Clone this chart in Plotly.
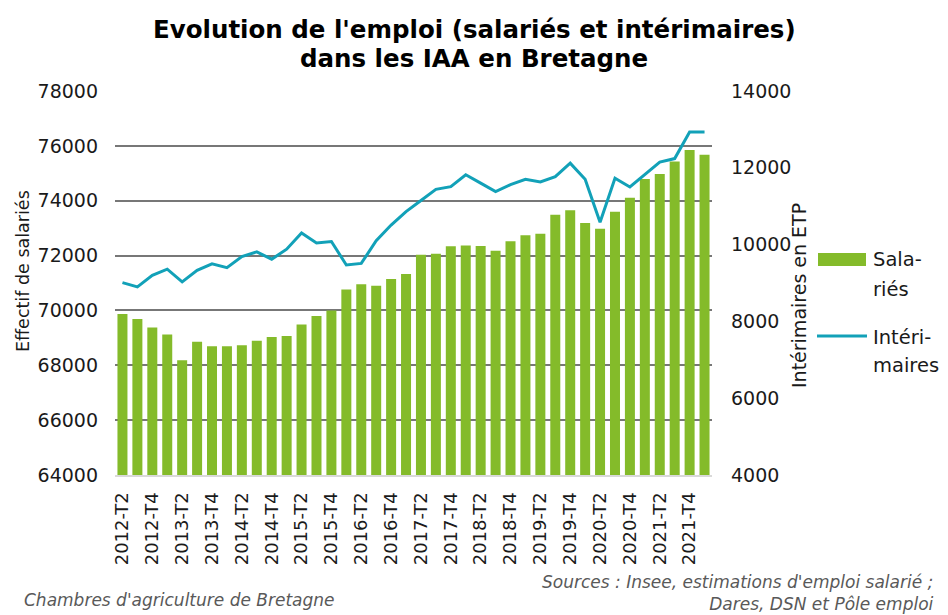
import plotly.graph_objects as go

quarters = [
    "2012-T2", "2012-T3", "2012-T4", "2013-T1", "2013-T2", "2013-T3", "2013-T4", "2014-T1",
    "2014-T2", "2014-T3", "2014-T4", "2015-T1", "2015-T2", "2015-T3", "2015-T4", "2016-T1",
    "2016-T2", "2016-T3", "2016-T4", "2017-T1", "2017-T2", "2017-T3", "2017-T4", "2018-T1",
    "2018-T2", "2018-T3", "2018-T4", "2019-T1", "2019-T2", "2019-T3", "2019-T4", "2020-T1",
    "2020-T2", "2020-T3", "2020-T4", "2021-T1", "2021-T2", "2021-T3", "2021-T4", "2022-T1",
]
salaries = [69870, 69690, 69380, 69120, 68180, 68860, 68690, 68690, 68730, 68890,
            69030, 69070, 69490, 69800, 70000, 70760, 70950, 70900, 71150, 71330,
            72030, 72070, 72340, 72370, 72350, 72180, 72520, 72740, 72800, 73490,
            73650, 73190, 72980, 73600, 74110, 74790, 74970, 75430, 75850, 75680]
interimaires = [9010, 8900, 9200, 9360, 9030, 9330, 9500, 9400, 9690, 9810,
                9620, 9880, 10300, 10040, 10080, 9470, 9510, 10100, 10510, 10860,
                11150, 11440, 11510, 11820, 11600, 11380, 11560, 11700, 11630, 11770,
                12120, 11700, 10580, 11730, 11500, 11820, 12150, 12240, 12930, 12930]
tick_labels = quarters[::2]
left_ticks = [64000, 66000, 68000, 70000, 72000, 74000, 76000, 78000]
right_ticks = [4000, 6000, 8000, 10000, 12000, 14000]

GREEN = "#84BB2A"
TEAL = "#12A1B8"
FONT = "DejaVu Sans"

fig = go.Figure()
fig.add_trace(go.Bar(x=quarters, y=salaries, name="Salariés", marker_color=GREEN,
                     marker_line_width=0, showlegend=False))
fig.add_trace(go.Scatter(x=quarters, y=interimaires, name="Intérimaires", mode="lines",
                         line=dict(color=TEAL, width=3), yaxis="y2", showlegend=False))

# page body has an 8px margin: figure is 940x607 so it fills the 948x615 window
fig.update_layout(
    width=940, height=607,
    margin=dict(l=107, r=236, t=83, b=140, autoexpand=False),
    paper_bgcolor="white", plot_bgcolor="white",
    font=dict(family=FONT, color="#1a1a1a"),
    bargap=0.33,
    xaxis=dict(type="category", range=[-0.5, 39.5], tickmode="array",
               tickvals=tick_labels, ticktext=tick_labels, tickangle=-90,
               tickfont=dict(size=18, color="#1a1a1a"), showgrid=False,
               showline=True, linecolor="#d9d9d9", linewidth=2, ticks="",
               ticklabelstandoff=8, automargin=False),
    yaxis=dict(range=[64000, 78000], tickvals=left_ticks, ticks="",
               tickfont=dict(size=19, color="#1a1a1a"), showgrid=True,
               gridcolor="#777777", gridwidth=1.5, zeroline=False, showline=False,
               ticklabelstandoff=16, tickformat="d", automargin=False),
    yaxis2=dict(range=[4000, 14000], tickvals=right_ticks, overlaying="y", side="right",
                ticks="", tickfont=dict(size=19, color="#1a1a1a"), showgrid=False,
                zeroline=False, showline=False, ticklabelstandoff=18, tickformat="d",
                automargin=False),
    showlegend=False,
)

def px_x(x):
    return (x - 115) / 597.0

def px_y(y):
    return (475 - y) / 384.0

ann = []
# Title
ann.append(dict(text="<b>Evolution de l'emploi (salariés et intérimaires)</b>", x=px_x(474), xref="paper",
                y=px_y(29), yref="paper", showarrow=False, xanchor="center", yanchor="middle",
                font=dict(size=24.5, color="black")))
ann.append(dict(text="<b>dans les IAA en Bretagne</b>", x=px_x(474), xref="paper",
                y=px_y(58), yref="paper", showarrow=False, xanchor="center", yanchor="middle",
                font=dict(size=24.5, color="black")))
# Axis titles
ann.append(dict(text="Effectif de salariés", x=px_x(23), y=px_y(271), xref="paper", yref="paper",
                textangle=-90, showarrow=False, xanchor="center", yanchor="middle",
                font=dict(size=17.5, color="#1a1a1a")))
ann.append(dict(text="Intérimaires en ETP", x=px_x(799), y=px_y(296), xref="paper", yref="paper",
                textangle=-90, showarrow=False, xanchor="center", yanchor="middle",
                font=dict(size=19, color="#1a1a1a")))
# Legend text
for txt, yy in [("Sala-", 259), ("riés", 289), ("Intéri-", 337), ("maires", 365)]:
    ann.append(dict(text=txt, x=px_x(871), y=px_y(yy), xref="paper", yref="paper",
                    showarrow=False, xanchor="left", yanchor="middle",
                    font=dict(size=19.5, color="#1a1a1a")))
# Footer
ann.append(dict(text="<i>Chambres d'agriculture de Bretagne</i>", x=px_x(22), y=px_y(600),
                xref="paper", yref="paper", showarrow=False, xanchor="left", yanchor="middle",
                font=dict(size=17, color="#595959")))
ann.append(dict(text="<i>Sources : Insee, estimations d'emploi salarié ;<br>Dares, DSN et Pôle emploi</i>",
                x=px_x(936), y=px_y(616), xref="paper", yref="paper", showarrow=False,
                xanchor="right", yanchor="bottom", align="right",
                font=dict(size=17, color="#595959")))
fig.update_layout(annotations=ann)

# Legend keys
fig.add_shape(type="rect", xref="paper", yref="paper", x0=px_x(818), x1=px_x(866),
              y0=px_y(266), y1=px_y(253), fillcolor=GREEN, line_width=0)
fig.add_shape(type="line", xref="paper", yref="paper", x0=px_x(817), x1=px_x(867),
              y0=px_y(336), y1=px_y(336), line=dict(color=TEAL, width=3))

fig.write_html("out.html")
